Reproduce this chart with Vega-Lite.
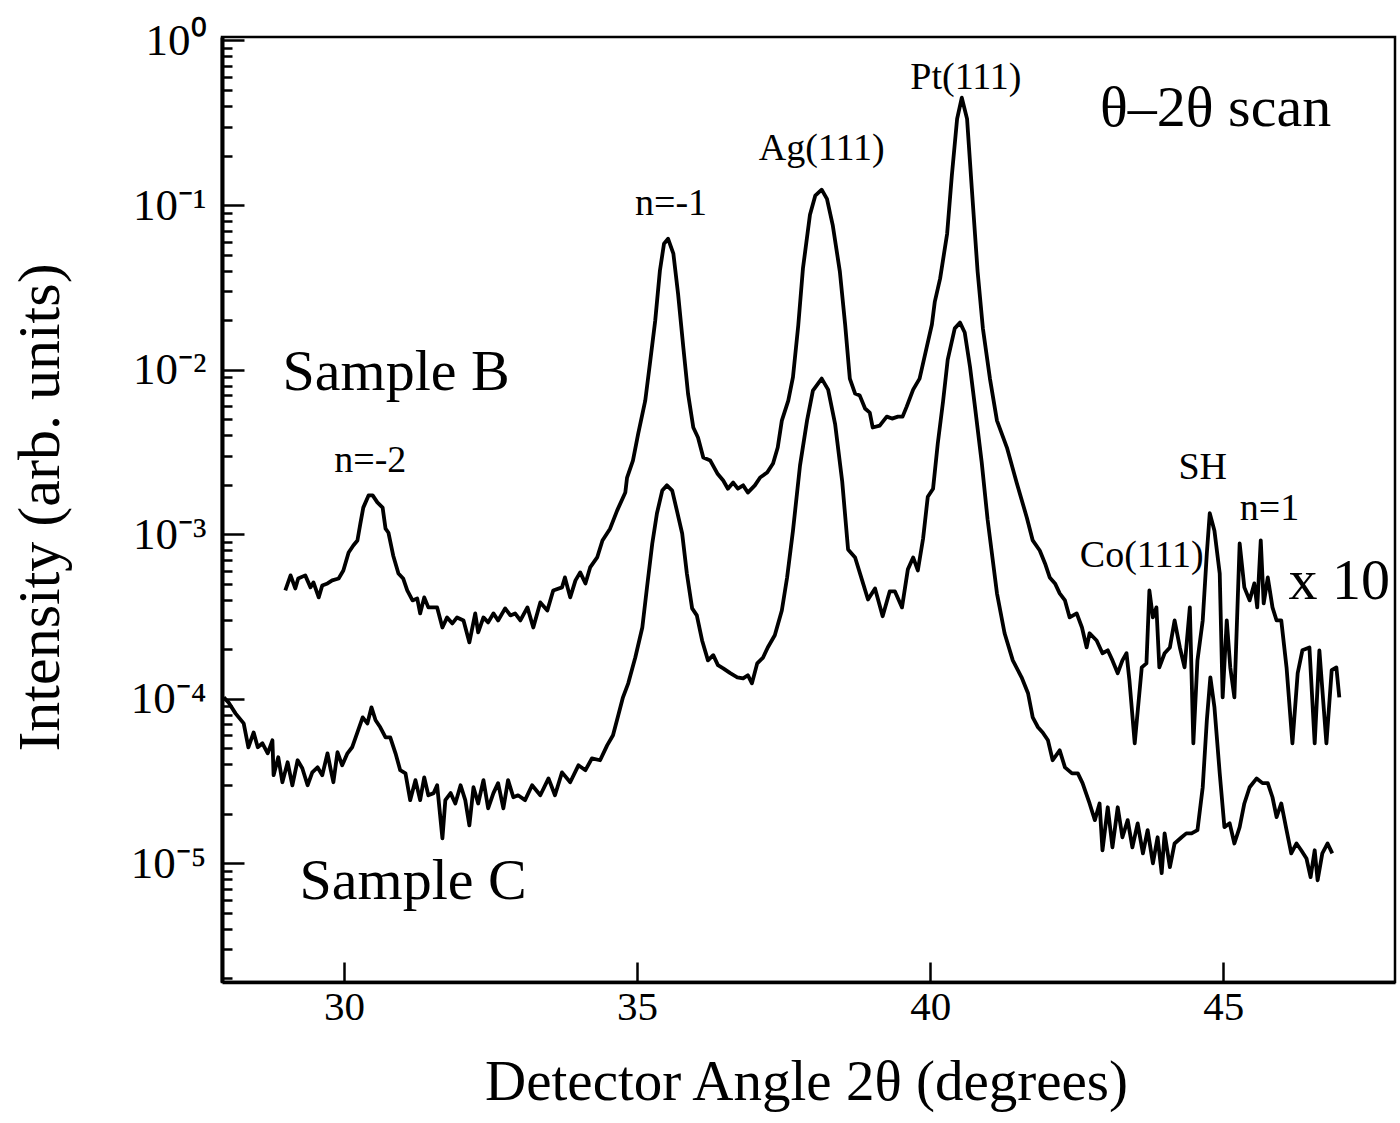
{
  "$schema": "https://vega.github.io/schema/vega-lite/v6.json",
  "width": 1173,
  "height": 945,
  "autosize": {"type": "none"},
  "padding": {"left": 222, "top": 37, "right": 5, "bottom": 141},
  "background": "white",
  "config": {
    "view": {"stroke": "black", "strokeWidth": 2.5},
    "font": "Liberation Serif",
    "axis": {"grid": false, "labelFont": "Liberation Serif", "titleFont": "Liberation Serif", "labelColor": "black", "titleColor": "black", "tickColor": "black", "domainColor": "black", "titleFontWeight": "normal"},
    "axisX": {"tickSize": -20, "tickWidth": 2.5, "domainWidth": 3.5, "labelFontSize": 41, "labelPadding": 25, "labelFlush": false, "titleFontSize": 57, "titleX": 584, "titleY": 100, "titleBaseline": "middle"}
  },
  "datasets": {
    "scan": [
      {"sample":"B","angle":29.00,"intensity":4.55e-4},{"sample":"B","angle":29.09,"intensity":5.62e-4},{"sample":"B","angle":29.17,"intensity":4.68e-4},{"sample":"B","angle":29.22,"intensity":5.38e-4},{"sample":"B","angle":29.34,"intensity":5.62e-4},{"sample":"B","angle":29.43,"intensity":4.75e-4},{"sample":"B","angle":29.48,"intensity":5.09e-4},{"sample":"B","angle":29.57,"intensity":4.13e-4},{"sample":"B","angle":29.63,"intensity":4.88e-4},{"sample":"B","angle":29.72,"intensity":5.02e-4},{"sample":"B","angle":29.80,"intensity":5.24e-4},{"sample":"B","angle":29.91,"intensity":5.38e-4},{"sample":"B","angle":29.99,"intensity":6.02e-4},{"sample":"B","angle":30.08,"intensity":7.74e-4},{"sample":"B","angle":30.16,"intensity":8.54e-4},{"sample":"B","angle":30.23,"intensity":9.16e-4},{"sample":"B","angle":30.28,"intensity":1.16e-3},{"sample":"B","angle":30.33,"intensity":1.45e-3},{"sample":"B","angle":30.42,"intensity":1.72e-3},{"sample":"B","angle":30.49,"intensity":1.72e-3},{"sample":"B","angle":30.57,"intensity":1.56e-3},{"sample":"B","angle":30.66,"intensity":1.45e-3},{"sample":"B","angle":30.71,"intensity":1.08e-3},{"sample":"B","angle":30.76,"intensity":1.02e-3},{"sample":"B","angle":30.84,"intensity":7.43e-4},{"sample":"B","angle":30.93,"intensity":5.77e-4},{"sample":"B","angle":31.01,"intensity":5.38e-4},{"sample":"B","angle":31.08,"intensity":4.55e-4},{"sample":"B","angle":31.17,"intensity":3.96e-4},{"sample":"B","angle":31.25,"intensity":4.07e-4},{"sample":"B","angle":31.30,"intensity":3.30e-4},{"sample":"B","angle":31.37,"intensity":4.13e-4},{"sample":"B","angle":31.44,"intensity":3.59e-4},{"sample":"B","angle":31.53,"intensity":3.59e-4},{"sample":"B","angle":31.59,"intensity":3.59e-4},{"sample":"B","angle":31.68,"intensity":2.71e-4},{"sample":"B","angle":31.76,"intensity":3.12e-4},{"sample":"B","angle":31.85,"intensity":2.87e-4},{"sample":"B","angle":31.93,"intensity":3.12e-4},{"sample":"B","angle":32.04,"intensity":2.99e-4},{"sample":"B","angle":32.14,"intensity":2.20e-4},{"sample":"B","angle":32.24,"intensity":3.30e-4},{"sample":"B","angle":32.29,"intensity":2.53e-4},{"sample":"B","angle":32.38,"intensity":3.12e-4},{"sample":"B","angle":32.46,"intensity":2.91e-4},{"sample":"B","angle":32.55,"intensity":3.30e-4},{"sample":"B","angle":32.63,"intensity":2.99e-4},{"sample":"B","angle":32.75,"intensity":3.54e-4},{"sample":"B","angle":32.84,"intensity":3.21e-4},{"sample":"B","angle":32.92,"intensity":3.30e-4},{"sample":"B","angle":33.01,"intensity":2.99e-4},{"sample":"B","angle":33.13,"intensity":3.59e-4},{"sample":"B","angle":33.23,"intensity":2.71e-4},{"sample":"B","angle":33.35,"intensity":3.85e-4},{"sample":"B","angle":33.47,"intensity":3.44e-4},{"sample":"B","angle":33.57,"intensity":4.55e-4},{"sample":"B","angle":33.72,"intensity":4.75e-4},{"sample":"B","angle":33.77,"intensity":5.46e-4},{"sample":"B","angle":33.86,"intensity":4.13e-4},{"sample":"B","angle":33.95,"intensity":5.24e-4},{"sample":"B","angle":34.03,"intensity":5.86e-4},{"sample":"B","angle":34.12,"intensity":5.02e-4},{"sample":"B","angle":34.20,"intensity":6.28e-4},{"sample":"B","angle":34.32,"intensity":7.22e-4},{"sample":"B","angle":34.41,"intensity":9.16e-4},{"sample":"B","angle":34.54,"intensity":1.08e-3},{"sample":"B","angle":34.66,"intensity":1.39e-3},{"sample":"B","angle":34.80,"intensity":1.79e-3},{"sample":"B","angle":34.83,"intensity":2.21e-3},{"sample":"B","angle":34.93,"intensity":2.80e-3},{"sample":"B","angle":35.02,"intensity":4.09e-3},{"sample":"B","angle":35.14,"intensity":6.48e-3},{"sample":"B","angle":35.22,"intensity":1.09e-2},{"sample":"B","angle":35.31,"intensity":1.98e-2},{"sample":"B","angle":35.39,"intensity":3.99e-2},{"sample":"B","angle":35.46,"intensity":5.82e-2},{"sample":"B","angle":35.53,"intensity":6.24e-2},{"sample":"B","angle":35.62,"intensity":5.06e-2},{"sample":"B","angle":35.70,"intensity":2.89e-2},{"sample":"B","angle":35.79,"intensity":1.36e-2},{"sample":"B","angle":35.87,"intensity":7.15e-3},{"sample":"B","angle":35.96,"intensity":4.45e-3},{"sample":"B","angle":36.04,"intensity":3.87e-3},{"sample":"B","angle":36.13,"intensity":2.92e-3},{"sample":"B","angle":36.25,"intensity":2.80e-3},{"sample":"B","angle":36.37,"intensity":2.34e-3},{"sample":"B","angle":36.47,"intensity":2.12e-3},{"sample":"B","angle":36.55,"intensity":1.89e-3},{"sample":"B","angle":36.64,"intensity":2.06e-3},{"sample":"B","angle":36.72,"intensity":1.89e-3},{"sample":"B","angle":36.81,"intensity":1.98e-3},{"sample":"B","angle":36.89,"intensity":1.79e-3},{"sample":"B","angle":37.01,"intensity":1.98e-3},{"sample":"B","angle":37.10,"intensity":2.21e-3},{"sample":"B","angle":37.22,"intensity":2.37e-3},{"sample":"B","angle":37.32,"intensity":2.69e-3},{"sample":"B","angle":37.40,"intensity":3.36e-3},{"sample":"B","angle":37.47,"intensity":4.90e-3},{"sample":"B","angle":37.58,"intensity":6.48e-3},{"sample":"B","angle":37.66,"intensity":9.0e-3},{"sample":"B","angle":37.75,"intensity":1.85e-2},{"sample":"B","angle":37.83,"intensity":4.11e-2},{"sample":"B","angle":37.95,"intensity":8.73e-2},{"sample":"B","angle":38.04,"intensity":0.114},{"sample":"B","angle":38.15,"intensity":0.124},{"sample":"B","angle":38.24,"intensity":0.109},{"sample":"B","angle":38.34,"intensity":7.49e-2},{"sample":"B","angle":38.46,"intensity":3.94e-2},{"sample":"B","angle":38.55,"intensity":1.88e-2},{"sample":"B","angle":38.63,"intensity":8.82e-3},{"sample":"B","angle":38.72,"intensity":7.15e-3},{"sample":"B","angle":38.80,"intensity":6.95e-3},{"sample":"B","angle":38.89,"intensity":5.80e-3},{"sample":"B","angle":38.97,"intensity":5.48e-3},{"sample":"B","angle":39.02,"intensity":4.45e-3},{"sample":"B","angle":39.14,"intensity":4.57e-3},{"sample":"B","angle":39.26,"intensity":5.18e-3},{"sample":"B","angle":39.35,"intensity":5.04e-3},{"sample":"B","angle":39.45,"intensity":5.18e-3},{"sample":"B","angle":39.53,"intensity":5.18e-3},{"sample":"B","angle":39.60,"intensity":5.96e-3},{"sample":"B","angle":39.71,"intensity":7.56e-3},{"sample":"B","angle":39.82,"intensity":8.82e-3},{"sample":"B","angle":39.94,"intensity":1.36e-2},{"sample":"B","angle":40.03,"intensity":1.88e-2},{"sample":"B","angle":40.08,"intensity":2.59e-2},{"sample":"B","angle":40.17,"intensity":3.57e-2},{"sample":"B","angle":40.29,"intensity":6.70e-2},{"sample":"B","angle":40.37,"intensity":0.151},{"sample":"B","angle":40.46,"intensity":0.334},{"sample":"B","angle":40.54,"intensity":0.449},{"sample":"B","angle":40.63,"intensity":0.334},{"sample":"B","angle":40.71,"intensity":0.127},{"sample":"B","angle":40.81,"intensity":3.94e-2},{"sample":"B","angle":40.90,"intensity":1.78e-2},{"sample":"B","angle":41.02,"intensity":8.82e-3},{"sample":"B","angle":41.14,"intensity":4.90e-3},{"sample":"B","angle":41.31,"intensity":3.36e-3},{"sample":"B","angle":41.48,"intensity":2.03e-3},{"sample":"B","angle":41.65,"intensity":1.26e-3},{"sample":"B","angle":41.75,"intensity":9.16e-4},{"sample":"B","angle":41.87,"intensity":7.96e-4},{"sample":"B","angle":41.96,"intensity":6.64e-4},{"sample":"B","angle":42.04,"intensity":5.46e-4},{"sample":"B","angle":42.13,"intensity":5.02e-4},{"sample":"B","angle":42.21,"intensity":4.37e-4},{"sample":"B","angle":42.30,"intensity":3.96e-4},{"sample":"B","angle":42.38,"intensity":3.12e-4},{"sample":"B","angle":42.50,"intensity":3.30e-4},{"sample":"B","angle":42.59,"intensity":2.71e-4},{"sample":"B","angle":42.67,"intensity":2.05e-4},{"sample":"B","angle":42.72,"intensity":2.50e-4},{"sample":"B","angle":42.84,"intensity":2.26e-4},{"sample":"B","angle":42.94,"intensity":1.89e-4},{"sample":"B","angle":43.03,"intensity":1.97e-4},{"sample":"B","angle":43.11,"intensity":1.71e-4},{"sample":"B","angle":43.20,"intensity":1.43e-4},{"sample":"B","angle":43.28,"intensity":1.71e-4},{"sample":"B","angle":43.35,"intensity":1.89e-4},{"sample":"B","angle":43.40,"intensity":1.29e-4},{"sample":"B","angle":43.49,"intensity":5.36e-5},{"sample":"B","angle":43.61,"intensity":1.55e-4},{"sample":"B","angle":43.69,"intensity":1.64e-4},{"sample":"B","angle":43.74,"intensity":4.55e-4},{"sample":"B","angle":43.80,"intensity":3.12e-4},{"sample":"B","angle":43.86,"intensity":3.59e-4},{"sample":"B","angle":43.91,"intensity":1.55e-4},{"sample":"B","angle":44.00,"intensity":1.89e-4},{"sample":"B","angle":44.09,"intensity":2.05e-4},{"sample":"B","angle":44.17,"intensity":2.99e-4},{"sample":"B","angle":44.26,"intensity":2.05e-4},{"sample":"B","angle":44.34,"intensity":1.55e-4},{"sample":"B","angle":44.43,"intensity":3.59e-4},{"sample":"B","angle":44.49,"intensity":5.36e-5},{"sample":"B","angle":44.56,"intensity":1.71e-4},{"sample":"B","angle":44.65,"intensity":2.99e-4},{"sample":"B","angle":44.72,"intensity":7.64e-4},{"sample":"B","angle":44.77,"intensity":1.34e-3},{"sample":"B","angle":44.85,"intensity":1.05e-3},{"sample":"B","angle":44.94,"intensity":5.77e-4},{"sample":"B","angle":44.99,"intensity":1.02e-4},{"sample":"B","angle":45.06,"intensity":2.99e-4},{"sample":"B","angle":45.12,"intensity":1.55e-4},{"sample":"B","angle":45.19,"intensity":1.02e-4},{"sample":"B","angle":45.28,"intensity":8.78e-4},{"sample":"B","angle":45.36,"intensity":4.75e-4},{"sample":"B","angle":45.45,"intensity":3.96e-4},{"sample":"B","angle":45.53,"intensity":5.02e-4},{"sample":"B","angle":45.58,"intensity":3.59e-4},{"sample":"B","angle":45.64,"intensity":9.16e-4},{"sample":"B","angle":45.69,"intensity":3.80e-4},{"sample":"B","angle":45.76,"intensity":5.46e-4},{"sample":"B","angle":45.84,"intensity":3.59e-4},{"sample":"B","angle":45.91,"intensity":2.99e-4},{"sample":"B","angle":45.99,"intensity":2.99e-4},{"sample":"B","angle":46.08,"intensity":1.55e-4},{"sample":"B","angle":46.18,"intensity":5.36e-5},{"sample":"B","angle":46.27,"intensity":1.43e-4},{"sample":"B","angle":46.35,"intensity":1.97e-4},{"sample":"B","angle":46.47,"intensity":2.05e-4},{"sample":"B","angle":46.56,"intensity":5.36e-5},{"sample":"B","angle":46.64,"intensity":1.97e-4},{"sample":"B","angle":46.76,"intensity":5.36e-5},{"sample":"B","angle":46.85,"intensity":1.49e-4},{"sample":"B","angle":46.93,"intensity":1.55e-4},{"sample":"B","angle":46.98,"intensity":1.02e-4},
      {"sample":"C","angle":27.95,"intensity":1.02e-4},{"sample":"C","angle":28.03,"intensity":9.51e-5},{"sample":"C","angle":28.15,"intensity":8.15e-5},{"sample":"C","angle":28.29,"intensity":7.08e-5},{"sample":"C","angle":28.37,"intensity":5.07e-5},{"sample":"C","angle":28.46,"intensity":6.24e-5},{"sample":"C","angle":28.53,"intensity":5.07e-5},{"sample":"C","angle":28.61,"intensity":5.36e-5},{"sample":"C","angle":28.70,"intensity":4.66e-5},{"sample":"C","angle":28.78,"intensity":5.59e-5},{"sample":"C","angle":28.80,"intensity":3.43e-5},{"sample":"C","angle":28.88,"intensity":4.41e-5},{"sample":"C","angle":28.95,"intensity":3.11e-5},{"sample":"C","angle":29.04,"intensity":4.11e-5},{"sample":"C","angle":29.12,"intensity":2.98e-5},{"sample":"C","angle":29.21,"intensity":4.23e-5},{"sample":"C","angle":29.29,"intensity":3.78e-5},{"sample":"C","angle":29.38,"intensity":2.98e-5},{"sample":"C","angle":29.46,"intensity":3.57e-5},{"sample":"C","angle":29.55,"intensity":3.83e-5},{"sample":"C","angle":29.63,"intensity":3.43e-5},{"sample":"C","angle":29.72,"intensity":4.66e-5},{"sample":"C","angle":29.77,"intensity":3.78e-5},{"sample":"C","angle":29.82,"intensity":3.11e-5},{"sample":"C","angle":29.89,"intensity":4.73e-5},{"sample":"C","angle":29.97,"intensity":3.94e-5},{"sample":"C","angle":30.06,"intensity":4.66e-5},{"sample":"C","angle":30.14,"intensity":5.07e-5},{"sample":"C","angle":30.23,"intensity":6.24e-5},{"sample":"C","angle":30.32,"intensity":7.71e-5},{"sample":"C","angle":30.40,"intensity":7.08e-5},{"sample":"C","angle":30.47,"intensity":8.87e-5},{"sample":"C","angle":30.54,"intensity":7.40e-5},{"sample":"C","angle":30.62,"intensity":6.71e-5},{"sample":"C","angle":30.71,"intensity":5.83e-5},{"sample":"C","angle":30.79,"intensity":5.83e-5},{"sample":"C","angle":30.88,"intensity":4.66e-5},{"sample":"C","angle":30.96,"intensity":3.68e-5},{"sample":"C","angle":31.05,"intensity":3.52e-5},{"sample":"C","angle":31.13,"intensity":2.42e-5},{"sample":"C","angle":31.22,"intensity":3.20e-5},{"sample":"C","angle":31.30,"intensity":2.42e-5},{"sample":"C","angle":31.37,"intensity":3.33e-5},{"sample":"C","angle":31.44,"intensity":2.59e-5},{"sample":"C","angle":31.53,"intensity":2.67e-5},{"sample":"C","angle":31.59,"intensity":2.98e-5},{"sample":"C","angle":31.68,"intensity":1.42e-5},{"sample":"C","angle":31.73,"intensity":2.42e-5},{"sample":"C","angle":31.82,"intensity":2.67e-5},{"sample":"C","angle":31.90,"intensity":2.31e-5},{"sample":"C","angle":31.99,"intensity":2.98e-5},{"sample":"C","angle":32.07,"intensity":2.42e-5},{"sample":"C","angle":32.14,"intensity":1.70e-5},{"sample":"C","angle":32.21,"intensity":2.90e-5},{"sample":"C","angle":32.29,"intensity":2.31e-5},{"sample":"C","angle":32.38,"intensity":3.20e-5},{"sample":"C","angle":32.46,"intensity":2.16e-5},{"sample":"C","angle":32.55,"intensity":2.67e-5},{"sample":"C","angle":32.63,"intensity":3.07e-5},{"sample":"C","angle":32.72,"intensity":2.16e-5},{"sample":"C","angle":32.80,"intensity":3.20e-5},{"sample":"C","angle":32.89,"intensity":2.52e-5},{"sample":"C","angle":32.97,"intensity":2.59e-5},{"sample":"C","angle":33.09,"intensity":2.42e-5},{"sample":"C","angle":33.21,"intensity":2.98e-5},{"sample":"C","angle":33.35,"intensity":2.59e-5},{"sample":"C","angle":33.49,"intensity":3.28e-5},{"sample":"C","angle":33.60,"intensity":2.59e-5},{"sample":"C","angle":33.72,"intensity":3.57e-5},{"sample":"C","angle":33.86,"intensity":3.11e-5},{"sample":"C","angle":34.00,"intensity":3.94e-5},{"sample":"C","angle":34.12,"intensity":3.68e-5},{"sample":"C","angle":34.23,"intensity":4.34e-5},{"sample":"C","angle":34.37,"intensity":4.23e-5},{"sample":"C","angle":34.49,"intensity":5.21e-5},{"sample":"C","angle":34.59,"intensity":6.00e-5},{"sample":"C","angle":34.68,"intensity":7.93e-5},{"sample":"C","angle":34.76,"intensity":1.02e-4},{"sample":"C","angle":34.85,"intensity":1.24e-4},{"sample":"C","angle":34.97,"intensity":1.78e-4},{"sample":"C","angle":35.09,"intensity":2.71e-4},{"sample":"C","angle":35.17,"intensity":4.75e-4},{"sample":"C","angle":35.26,"intensity":8.78e-4},{"sample":"C","angle":35.34,"intensity":1.34e-3},{"sample":"C","angle":35.43,"intensity":1.84e-3},{"sample":"C","angle":35.51,"intensity":1.98e-3},{"sample":"C","angle":35.60,"intensity":1.84e-3},{"sample":"C","angle":35.68,"intensity":1.39e-3},{"sample":"C","angle":35.77,"intensity":1.01e-3},{"sample":"C","angle":35.85,"intensity":5.77e-4},{"sample":"C","angle":35.94,"intensity":3.54e-4},{"sample":"C","angle":36.02,"intensity":3.21e-4},{"sample":"C","angle":36.11,"intensity":2.26e-4},{"sample":"C","angle":36.21,"intensity":1.71e-4},{"sample":"C","angle":36.30,"intensity":1.84e-4},{"sample":"C","angle":36.38,"intensity":1.60e-4},{"sample":"C","angle":36.47,"intensity":1.53e-4},{"sample":"C","angle":36.59,"intensity":1.43e-4},{"sample":"C","angle":36.71,"intensity":1.35e-4},{"sample":"C","angle":36.81,"intensity":1.33e-4},{"sample":"C","angle":36.89,"intensity":1.39e-4},{"sample":"C","angle":36.96,"intensity":1.24e-4},{"sample":"C","angle":37.05,"intensity":1.64e-4},{"sample":"C","angle":37.15,"intensity":1.78e-4},{"sample":"C","angle":37.23,"intensity":2.05e-4},{"sample":"C","angle":37.35,"intensity":2.43e-4},{"sample":"C","angle":37.47,"intensity":3.44e-4},{"sample":"C","angle":37.56,"intensity":5.46e-4},{"sample":"C","angle":37.66,"intensity":1.05e-3},{"sample":"C","angle":37.78,"intensity":2.61e-3},{"sample":"C","angle":37.90,"intensity":4.90e-3},{"sample":"C","angle":38.00,"intensity":7.46e-3},{"sample":"C","angle":38.15,"intensity":8.82e-3},{"sample":"C","angle":38.26,"intensity":7.56e-3},{"sample":"C","angle":38.38,"intensity":4.64e-3},{"sample":"C","angle":38.50,"intensity":2.09e-3},{"sample":"C","angle":38.60,"intensity":8.08e-4},{"sample":"C","angle":38.72,"intensity":7.22e-4},{"sample":"C","angle":38.84,"intensity":5.24e-4},{"sample":"C","angle":38.94,"intensity":4.01e-4},{"sample":"C","angle":39.06,"intensity":4.68e-4},{"sample":"C","angle":39.19,"intensity":3.17e-4},{"sample":"C","angle":39.31,"intensity":4.49e-4},{"sample":"C","angle":39.40,"intensity":4.49e-4},{"sample":"C","angle":39.52,"intensity":3.59e-4},{"sample":"C","angle":39.62,"intensity":6.11e-4},{"sample":"C","angle":39.71,"intensity":7.22e-4},{"sample":"C","angle":39.79,"intensity":6.02e-4},{"sample":"C","angle":39.88,"intensity":9.42e-4},{"sample":"C","angle":39.96,"intensity":1.69e-3},{"sample":"C","angle":40.05,"intensity":1.89e-3},{"sample":"C","angle":40.13,"intensity":3.55e-3},{"sample":"C","angle":40.22,"intensity":6.39e-3},{"sample":"C","angle":40.30,"intensity":1.15e-2},{"sample":"C","angle":40.42,"intensity":1.78e-2},{"sample":"C","angle":40.51,"intensity":1.93e-2},{"sample":"C","angle":40.59,"intensity":1.68e-2},{"sample":"C","angle":40.68,"intensity":1.04e-2},{"sample":"C","angle":40.76,"intensity":6.13e-3},{"sample":"C","angle":40.88,"intensity":2.73e-3},{"sample":"C","angle":40.98,"intensity":1.23e-3},{"sample":"C","angle":41.14,"intensity":4.37e-4},{"sample":"C","angle":41.27,"intensity":2.50e-4},{"sample":"C","angle":41.41,"intensity":1.71e-4},{"sample":"C","angle":41.56,"intensity":1.35e-4},{"sample":"C","angle":41.67,"intensity":1.08e-4},{"sample":"C","angle":41.75,"intensity":7.71e-5},{"sample":"C","angle":41.84,"intensity":6.71e-5},{"sample":"C","angle":41.92,"intensity":6.24e-5},{"sample":"C","angle":42.01,"intensity":5.59e-5},{"sample":"C","angle":42.09,"intensity":4.23e-5},{"sample":"C","angle":42.21,"intensity":4.86e-5},{"sample":"C","angle":42.30,"intensity":3.83e-5},{"sample":"C","angle":42.42,"intensity":3.52e-5},{"sample":"C","angle":42.52,"intensity":3.52e-5},{"sample":"C","angle":42.60,"intensity":3.07e-5},{"sample":"C","angle":42.72,"intensity":2.31e-5},{"sample":"C","angle":42.81,"intensity":1.83e-5},{"sample":"C","angle":42.89,"intensity":2.31e-5},{"sample":"C","angle":42.94,"intensity":1.20e-5},{"sample":"C","angle":43.03,"intensity":2.19e-5},{"sample":"C","angle":43.11,"intensity":1.25e-5},{"sample":"C","angle":43.20,"intensity":2.19e-5},{"sample":"C","angle":43.28,"intensity":1.44e-5},{"sample":"C","angle":43.37,"intensity":1.83e-5},{"sample":"C","angle":43.45,"intensity":1.25e-5},{"sample":"C","angle":43.54,"intensity":1.75e-5},{"sample":"C","angle":43.63,"intensity":1.15e-5},{"sample":"C","angle":43.71,"intensity":1.59e-5},{"sample":"C","angle":43.80,"intensity":1.00e-5},{"sample":"C","angle":43.88,"intensity":1.44e-5},{"sample":"C","angle":43.95,"intensity":8.71e-6},{"sample":"C","angle":44.00,"intensity":1.52e-5},{"sample":"C","angle":44.09,"intensity":9.47e-6},{"sample":"C","angle":44.17,"intensity":1.32e-5},{"sample":"C","angle":44.29,"intensity":1.44e-5},{"sample":"C","angle":44.37,"intensity":1.52e-5},{"sample":"C","angle":44.46,"intensity":1.52e-5},{"sample":"C","angle":44.56,"intensity":1.59e-5},{"sample":"C","angle":44.65,"intensity":2.90e-5},{"sample":"C","angle":44.72,"intensity":7.40e-5},{"sample":"C","angle":44.78,"intensity":1.35e-4},{"sample":"C","angle":44.85,"intensity":8.87e-5},{"sample":"C","angle":44.94,"intensity":3.52e-5},{"sample":"C","angle":45.02,"intensity":1.66e-5},{"sample":"C","angle":45.11,"intensity":1.75e-5},{"sample":"C","angle":45.19,"intensity":1.32e-5},{"sample":"C","angle":45.28,"intensity":1.66e-5},{"sample":"C","angle":45.36,"intensity":2.31e-5},{"sample":"C","angle":45.45,"intensity":2.90e-5},{"sample":"C","angle":45.57,"intensity":3.28e-5},{"sample":"C","angle":45.67,"intensity":3.07e-5},{"sample":"C","angle":45.76,"intensity":3.07e-5},{"sample":"C","angle":45.84,"intensity":2.52e-5},{"sample":"C","angle":45.91,"intensity":1.91e-5},{"sample":"C","angle":45.99,"intensity":2.31e-5},{"sample":"C","angle":46.08,"intensity":1.59e-5},{"sample":"C","angle":46.16,"intensity":1.15e-5},{"sample":"C","angle":46.25,"intensity":1.32e-5},{"sample":"C","angle":46.33,"intensity":1.20e-5},{"sample":"C","angle":46.42,"intensity":1.07e-5},{"sample":"C","angle":46.49,"intensity":8.24e-6},{"sample":"C","angle":46.56,"intensity":1.20e-5},{"sample":"C","angle":46.61,"intensity":7.89e-6},{"sample":"C","angle":46.69,"intensity":1.15e-5},{"sample":"C","angle":46.78,"intensity":1.32e-5},{"sample":"C","angle":46.86,"intensity":1.15e-5}
    ],
    "big": [
      {"label":"Sample B","angle":30.89,"intensity":9.6e-3},
      {"label":"Sample C","angle":31.18,"intensity":7.7e-6},
      {"label":"θ–2θ scan","angle":44.87,"intensity":0.384},
      {"label":"x 10","angle":46.98,"intensity":5.09e-4}
    ],
    "small": [
      {"label":"n=-2","angle":30.45,"intensity":2.80e-3},
      {"label":"n=-1","angle":35.58,"intensity":0.102},
      {"label":"Ag(111)","angle":38.15,"intensity":0.22},
      {"label":"Pt(111)","angle":40.61,"intensity":0.593},
      {"label":"Co(111)","angle":43.61,"intensity":7.32e-4},
      {"label":"SH","angle":44.65,"intensity":2.54e-3},
      {"label":"n=1","angle":45.79,"intensity":1.43e-3}
    ]
  },
  "layer": [
    {
      "data": {"name": "scan"},
      "mark": {"type": "line", "color": "black", "strokeWidth": 3.8, "strokeJoin": "round"},
      "encoding": {
        "x": {"field": "angle", "type": "quantitative", "scale": {"domain": [27.92, 47.93], "nice": false, "zero": false}, "axis": {"values": [30, 35, 40, 45], "format": "d", "title": "Detector Angle 2θ (degrees)"}},
        "y": {"field": "intensity", "type": "quantitative", "scale": {"type": "log", "domain": [1.9e-6, 1.05], "nice": false},
          "axis": {"orient": "left", "values": [1, 0.1, 0.01, 0.001, 0.0001, 0.00001], "labelExpr": "'10' + ['⁰','⁻¹','⁻²','⁻³','⁻⁴','⁻⁵'][round(-log(datum.value)/LN10)]", "tickSize": -22, "tickWidth": 2.5, "domainWidth": 4, "labelFontSize": 45, "labelPadding": 38, "labelFlush": false, "title": "Intensity (arb. units)", "titleFontSize": 60, "titleAngle": -90, "titleX": -182, "titleY": 470, "titleBaseline": "middle", "titleAlign": "center"}},
        "detail": {"field": "sample", "type": "nominal"}
      }
    },
    {
      "data": {"name": "small"},
      "mark": {"type": "text", "font": "Liberation Serif", "fontSize": 38, "color": "black", "align": "center", "baseline": "middle"},
      "encoding": {
        "x": {"field": "angle", "type": "quantitative", "axis": {"values": [30, 35, 40, 45], "format": "d", "title": "Detector Angle 2θ (degrees)"}},
        "y": {"field": "intensity", "type": "quantitative",
          "axis": {"orient": "left", "values": [2e-6,3e-6,4e-6,5e-6,6e-6,7e-6,8e-6,9e-6,2e-5,3e-5,4e-5,5e-5,6e-5,7e-5,8e-5,9e-5,2e-4,3e-4,4e-4,5e-4,6e-4,7e-4,8e-4,9e-4,2e-3,3e-3,4e-3,5e-3,6e-3,7e-3,8e-3,9e-3,0.02,0.03,0.04,0.05,0.06,0.07,0.08,0.09,0.2,0.3,0.4,0.5,0.6,0.7,0.8,0.9], "labels": false, "domain": false, "tickSize": -10, "tickWidth": 2.5, "title": null}},
        "text": {"field": "label"}
      }
    },
    {
      "data": {"name": "big"},
      "mark": {"type": "text", "font": "Liberation Serif", "fontSize": 58, "color": "black", "align": "center", "baseline": "middle"},
      "encoding": {
        "x": {"field": "angle", "type": "quantitative", "axis": {"values": [30, 35, 40, 45], "format": "d", "title": "Detector Angle 2θ (degrees)"}},
        "y": {"field": "intensity", "type": "quantitative", "axis": null},
        "text": {"field": "label"}
      }
    }
  ],
  "resolve": {"axis": {"y": "independent"}}
}
